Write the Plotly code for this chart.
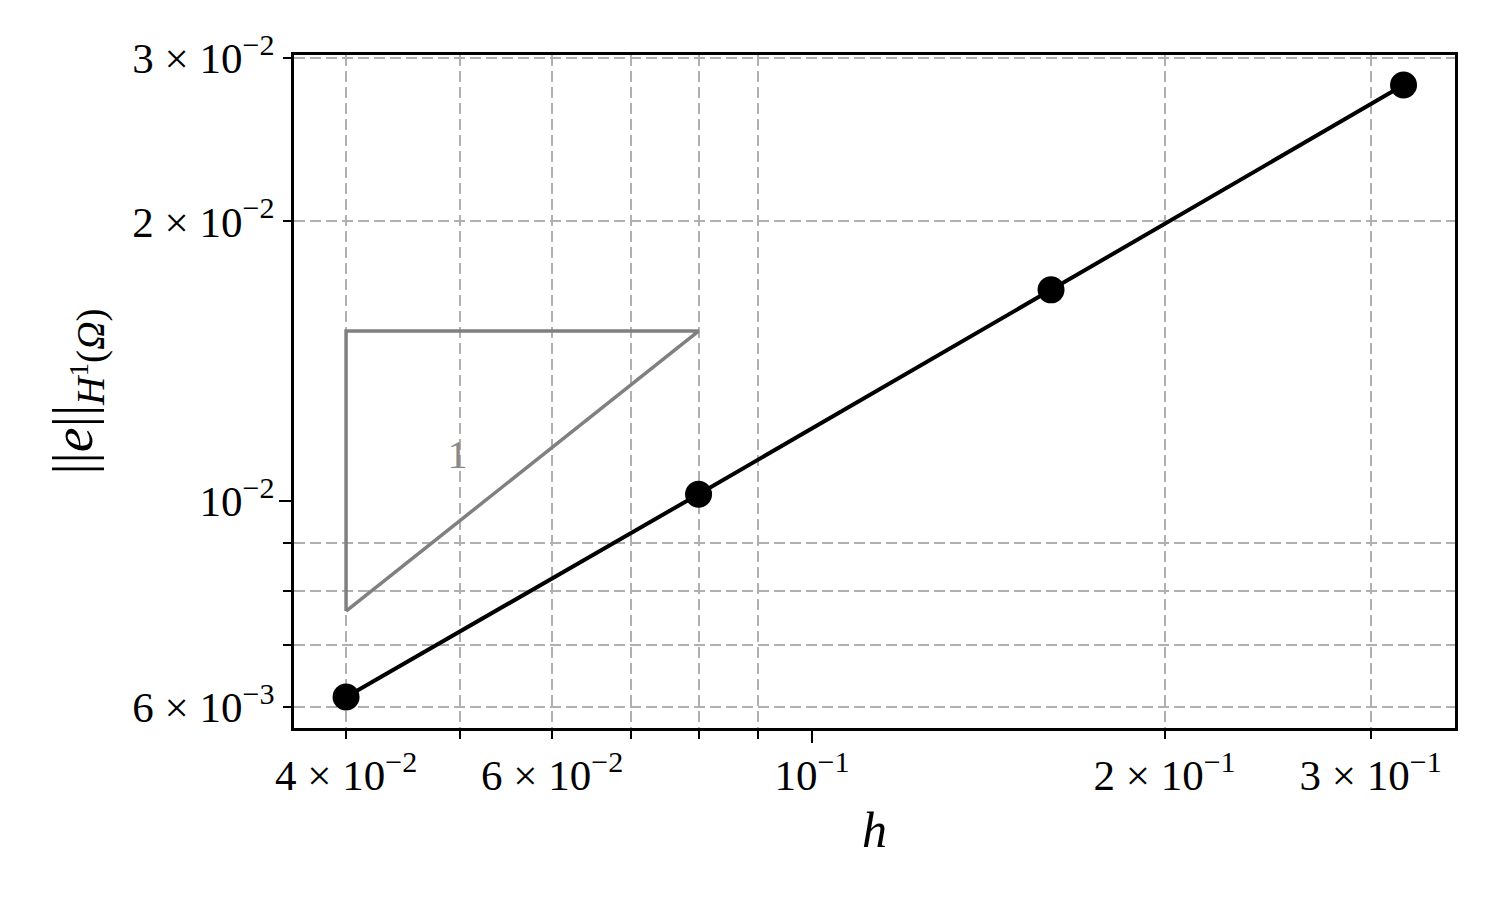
import numpy as np
import plotly.graph_objects as go

# mesh size and H1 error
h = [0.04, 0.08, 0.16, 0.32]
err = [0.00615, 0.01017, 0.01688, 0.02805]

# slope triangle (slope 1)
tri_h = [0.04, 0.04, 0.08, 0.04]
tri_e = [0.00761, 0.01524, 0.01524, 0.00761]
tri_label_h = [0.0498]
tri_label_e = [0.01112]
tri_label = ["1"]

# ticks
x_lab_vals = [0.04, 0.06, 0.1, 0.2, 0.3]
x_lab_text = ["4 × 10<sup>−2</sup>", "6 × 10<sup>−2</sup>", "10<sup>−1</sup>",
              "2 × 10<sup>−1</sup>", "3 × 10<sup>−1</sup>"]
x_minor = [0.04, 0.05, 0.06, 0.07, 0.08, 0.09, 0.2, 0.3]
y_lab_vals = [0.006, 0.01, 0.02, 0.03]
y_lab_text = ["6 × 10<sup>−3</sup>", "10<sup>−2</sup>", "2 × 10<sup>−2</sup>", "3 × 10<sup>−2</sup>"]
y_minor = [0.006, 0.007, 0.008, 0.009, 0.02, 0.03]

xr = [-1.4424, -0.4509]
yr = [-2.2445, -1.5197]

FONT = "Liberation Serif"
GRID = "#b0b0b0"

fig = go.Figure()

fig.add_trace(go.Scatter(
    x=tri_h, y=tri_e, mode="lines",
    line=dict(color="#808080", width=3.5),
    showlegend=False, hoverinfo="skip"
))
fig.add_trace(go.Scatter(
    x=tri_label_h, y=tri_label_e, mode="text", text=tri_label,
    textfont=dict(family=FONT, size=40, color="#8a8a8a"),
    showlegend=False, hoverinfo="skip"
))
fig.add_trace(go.Scatter(
    x=h, y=err, mode="lines+markers",
    line=dict(color="black", width=4),
    marker=dict(color="black", size=27),
    showlegend=False
))
# empty trace so the overlay axes (long major ticks) are drawn
fig.add_trace(go.Scatter(x=[], y=[], xaxis="x2", yaxis="y2", showlegend=False))

axis_common = dict(
    type="log", showline=True, mirror=True, linecolor="black", linewidth=2.5,
    ticks="outside", tickwidth=2, tickcolor="black", ticklen=8,
    showgrid=False, zeroline=False,
    tickfont=dict(family=FONT, size=43, color="black"),
)

fig.update_layout(
    width=1500, height=900,
    margin=dict(l=286, r=53, t=47, b=180),
    plot_bgcolor="white", paper_bgcolor="white",
    showlegend=False,
    xaxis=dict(
        axis_common, range=xr,
        tickmode="array", tickvals=x_lab_vals, ticktext=x_lab_text,
        minor=dict(tickmode="array", tickvals=x_minor, ticks="outside", ticklen=8,
                   tickwidth=2, tickcolor="black",
                   showgrid=True, gridcolor=GRID, gridwidth=2, griddash="11px,5px"),
        title=dict(text="<i>h</i>", font=dict(family=FONT, size=50, color="black"), standoff=14),
    ),
    yaxis=dict(
        axis_common, range=yr,
        tickmode="array", tickvals=y_lab_vals, ticktext=y_lab_text,
        minor=dict(tickmode="array", tickvals=y_minor, ticks="outside", ticklen=8,
                   tickwidth=2, tickcolor="black",
                   showgrid=True, gridcolor=GRID, gridwidth=2, griddash="11px,5px"),
        title=dict(text="||<i>e</i>||<sub><i>H</i><sup>1</sup>(<i>Ω</i>)</sub>",
                   font=dict(family=FONT, size=56, color="black"), standoff=22),
    ),
    xaxis2=dict(type="log", overlaying="x", range=xr, tickmode="array", tickvals=[0.1],
                ticks="outside", ticklen=14, tickwidth=2, tickcolor="black",
                showticklabels=False, showgrid=False, zeroline=False, anchor="y"),
    yaxis2=dict(type="log", overlaying="y", range=yr, tickmode="array", tickvals=[0.01],
                ticks="outside", ticklen=14, tickwidth=2, tickcolor="black",
                showticklabels=False, showgrid=False, zeroline=False, anchor="x"),
)

fig.write_html("out.html")
